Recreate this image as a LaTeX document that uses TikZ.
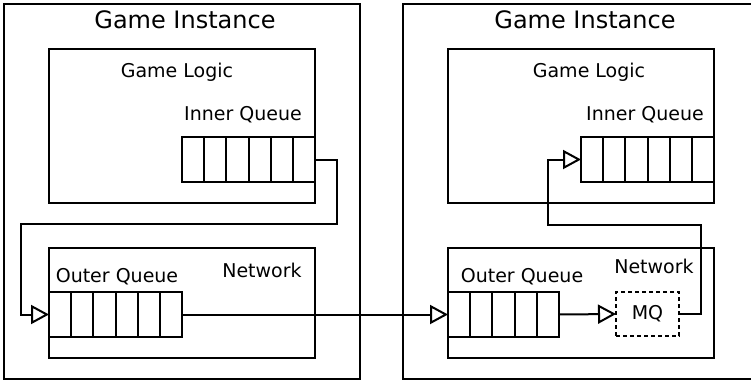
\documentclass[tikz,border=0pt]{standalone}
\usepackage{fontspec}
\setmainfont{DejaVu Sans}
\usetikzlibrary{arrows.meta}

\tikzset{
	box/.style={draw, line width=2pt, inner sep=0pt, outer sep=0pt, anchor=north west},
	cell/.style={draw, line width=2pt, minimum width=22.17pt, minimum height=45pt, inner sep=0pt, outer sep=0pt, anchor=north west},
	mqbox/.style={draw, line width=2pt, dash pattern=on 4pt off 3pt, minimum width=63pt, minimum height=44pt, inner sep=0pt, outer sep=0pt},
	flow/.style={line width=2pt, -{Triangle[open, length=18pt, width=19pt, line width=2pt]}},
	title/.style={font=\fontsize{24}{28}\selectfont},
	lbl/.style={font=\fontsize{19}{22}\selectfont}
}

\begin{document}
\begin{tikzpicture}[x=1pt, y=-1pt]
	\useasboundingbox (0,0) rectangle (751,381);
	\clip (0,0) rectangle (751,381);
	% left game instance
	\node[box, minimum width=356pt, minimum height=375pt] (instA) at (4,4) {};
	\node[title] (instAtxt) at (185,20) {Game Instance};
	\node[box, minimum width=266pt, minimum height=154pt] (logicA) at (49,49) {};
	\node[lbl] (logicAtxt) at (177,72) {Game Logic};
	\node[lbl] (iqAtxt) at (243,115) {Inner Queue};
	\foreach \i in {0,...,5}
		\node[cell] (iqA-\i) at (182+\i*22.17,137) {};
	\node[box, minimum width=266pt, minimum height=110pt] (netA) at (49,248) {};
	\node[lbl] (netAtxt) at (262,270) {Network};
	\node[lbl] (oqAtxt) at (117,277) {Outer Queue};
	\foreach \i in {0,...,5}
		\node[cell] (oqA-\i) at (49+\i*22.17,292) {};
	% right game instance
	\node[box, minimum width=360pt, minimum height=375pt] (instB) at (403,4) {};
	\node[title] (instBtxt) at (585,20) {Game Instance};
	\node[box, minimum width=266pt, minimum height=154pt] (logicB) at (448,49) {};
	\node[lbl] (logicBtxt) at (589,72) {Game Logic};
	\node[lbl] (iqBtxt) at (645,115) {Inner Queue};
	\foreach \i in {0,...,5}
		\node[cell] (iqB-\i) at (581+\i*22.17,137) {};
	\node[box, minimum width=266pt, minimum height=110pt] (netB) at (448,248) {};
	\node[lbl] (netBtxt) at (654,266) {Network};
	\node[lbl] (oqBtxt) at (522,277) {Outer Queue};
	\foreach \i in {0,...,4}
		\node[cell] (oqB-\i) at (448+\i*22.17,292) {};
	\node[mqbox, lbl] (mq) at (647.5,314) {MQ};
	% bends of the return lines
	\coordinate (tA) at (337,224);
	\coordinate (tB) at (21,224);
	\coordinate (tC) at (701,225);
	\coordinate (tD) at (548,225);
	% messages
	\draw[flow] (iqA-5.east) -| (tA) -- (tB) |- (oqA-0.west);
	\draw[flow] (oqA-5.east) -- (oqB-0.west);
	\draw[flow] (oqB-4.east) -- (mq.west);
	\draw[flow] (mq.east) -| (tC) -- (tD) |- (iqB-0.west);
\end{tikzpicture}
\end{document}
